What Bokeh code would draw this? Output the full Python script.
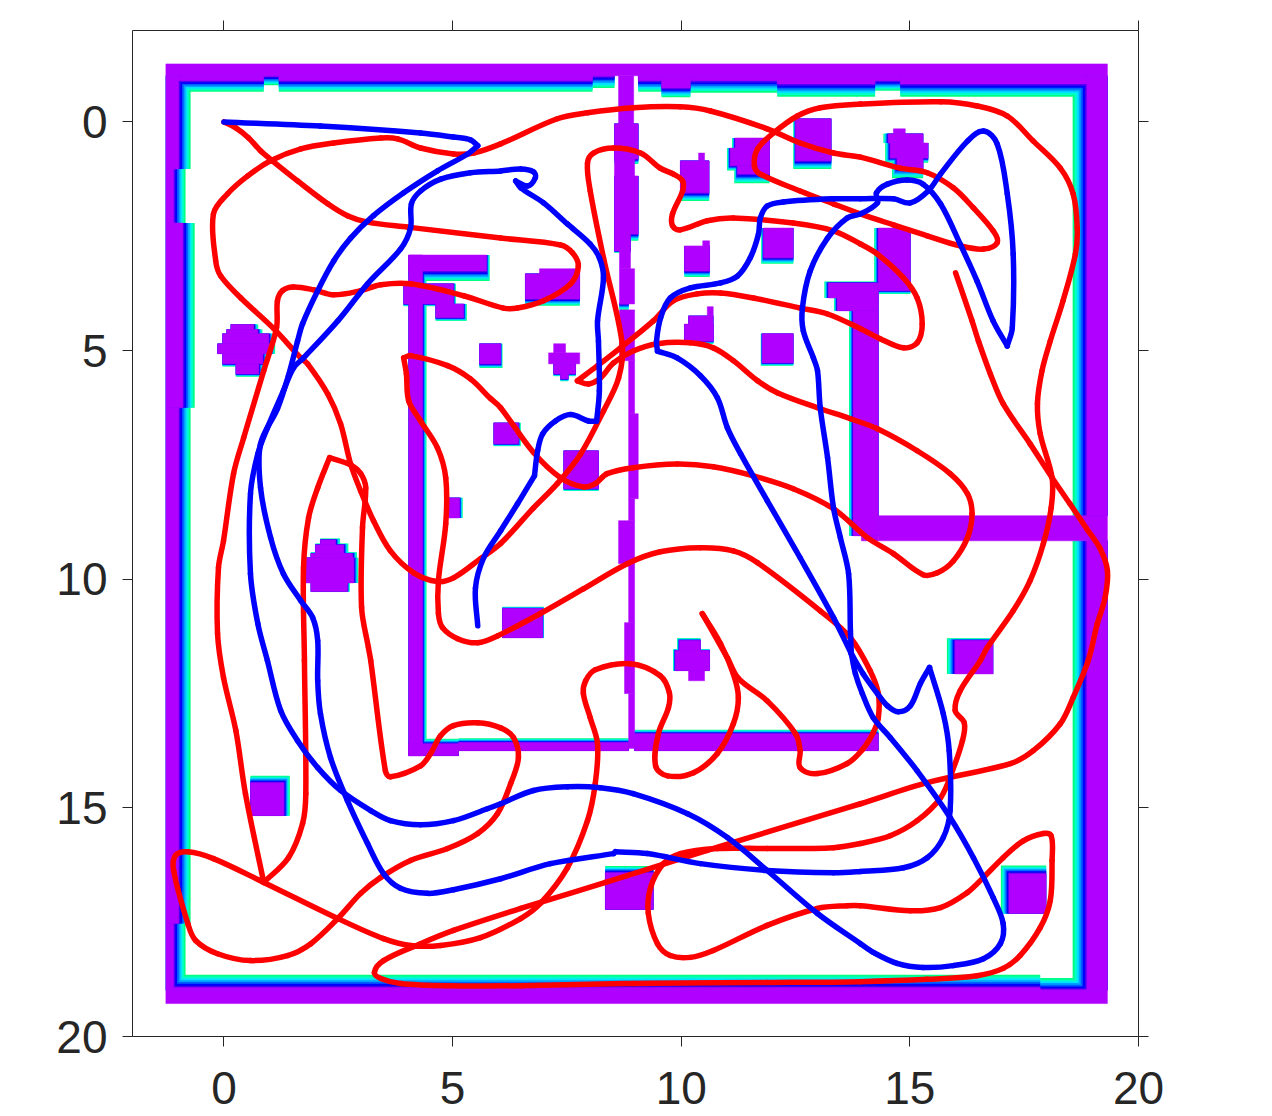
import math
from bokeh.plotting import figure
from bokeh.models import Range1d, LinearAxis, FixedTicker
from bokeh.embed import file_html
from bokeh.resources import INLINE

tick_values = [0, 5, 10, 15, 20]
tick_labels = {0: "0", 5: "5", 10: "10", 15: "15", 20: "20"}

# (x0, x1, y0, y1, halo_left, halo_top, halo_right, halo_bottom)
outer_walls = [
    (-1.27, 19.32, -1.27, -1.01, 0, 0, 0, 0),
    (-0.99, 0.87, -1.01, -0.90, 0, 0, 0, .24),
    (0.87, 1.20, -1.01, -1.00, 0, 0, 0, .20),
    (1.20, 8.06, -1.01, -0.90, 0, 0, 0, .24),
    (8.06, 8.54, -1.01, -1.00, 0, 0, 0, .26),
    (9.06, 9.57, -1.01, -0.90, 0, 0, 0, .24),
    (9.57, 10.20, -1.01, -0.74, 0, 0, 0, .20),
    (10.20, 12.10, -1.01, -0.90, 0, 0, 0, .26),
    (12.10, 14.24, -1.01, -0.83, 0, 0, 0, .28),
    (14.24, 14.79, -1.01, -0.90, 0, 0, 0, .22),
    (14.79, 18.87, -1.01, -0.83, 0, 0, 0, .28),
    (-1.27, -0.99, -1.01, 1.03, 0, 0, .26, 0),
    (-1.27, -1.10, 1.03, 2.21, 0, 0, .26, 0),
    (-1.27, -0.90, 2.21, 6.25, 0, 0, .26, 0),
    (-1.27, -0.99, 6.25, 17.53, 0, 0, .26, 0),
    (-1.27, -1.10, 17.53, 18.99, 0, 0, .26, 0),
    (-1.27, 19.32, 18.99, 19.28, 0, 0, 0, 0),
    (-1.10, 17.85, 18.93, 18.99, 0, .28, 0, 0),
    (17.85, 18.87, 18.98, 18.99, 0, .26, 0, 0),
    (18.87, 19.32, -1.01, 8.61, .31, 0, 0, 0),
    (18.87, 19.32, 9.16, 18.99, .31, 0, 0, 0),
]
inner_walls = [
    (4.04, 4.34, 2.91, 13.86, 0, 0, .09, 0),
    (4.04, 5.74, 2.91, 3.26, 0, 0, .07, .22),
    (3.93, 5.02, 3.54, 3.98, 0, 0, .05, .05),
    (4.63, 5.24, 3.98, 4.28, 0, 0, .07, .07),
    (4.04, 5.13, 13.60, 13.86, 0, .11, 0, 0),
    (5.13, 8.85, 13.57, 13.75, 0, .09, 0, 0),
    (8.98, 14.31, 13.38, 13.75, 0, .09, 0, 0),
    (13.22, 14.31, 3.52, 3.85, .09, .03, 0, 0),
    (13.41, 14.31, 3.85, 4.13, .07, 0, 0, 0),
    (13.76, 14.31, 4.13, 9.05, .09, 0, 0, 0),
    (14.31, 19.32, 8.61, 9.16, 0, 0, 0, 0),
    (13.94, 14.31, 9.05, 9.16, 0, 0, 0, 0),
    (8.63, 8.96, -1.01, 0.04, 0, 0, 0, 0),
    (8.54, 9.06, 0.04, 0.81, 0, 0, 0, .11),
    (8.54, 8.98, 0.81, 1.18, 0, 0, 0, 0),
    (8.54, 9.06, 1.18, 2.45, 0, 0, 0, .15),
    (8.54, 8.89, 2.45, 2.82, 0, 0, 0, .04),
    (8.65, 8.89, 2.82, 3.21, 0, 0, 0, 0),
    (8.65, 8.98, 3.21, 3.98, 0, 0, 0, 0),
    (8.65, 8.85, 3.97, 3.98, 0, 0, 0, .13),
    (8.65, 8.98, 4.11, 5.22, 0, 0, 0, 0),
    (8.85, 8.98, 5.22, 6.38, 0, 0, 0, 0),
    (8.85, 9.06, 6.38, 8.24, 0, 0, 0, 0),
    (8.85, 8.98, 8.24, 8.72, 0, 0, 0, 0),
    (8.63, 8.98, 8.72, 9.66, 0, 0, 0, 0),
    (8.85, 8.98, 9.66, 10.95, 0, 0, 0, 0),
    (8.76, 8.98, 10.95, 12.50, 0, 0, 0, 0),
    (8.85, 8.98, 12.50, 13.70, 0, 0, 0, 0),
]
obstacles = [
    (.15, .65, 4.43, 4.54, 0, 0, .10, 0),
    (.06, .74, 4.54, 4.63, 0, 0, .10, 0),
    (-.03, .98, 4.63, 4.85, 0, 0, .10, 0),
    (-.14, 1.02, 4.85, 5.07, 0, 0, .10, 0),
    (-.03, .85, 5.07, 5.29, 0, 0, .10, .06),
    (.26, .76, 5.29, 5.51, 0, 0, .10, .06),
    (5.59, 6.05, 4.85, 5.29, 0, 0, .04, .09),
    (7.21, 7.47, 4.85, 5.05, 0, 0, 0, 0),
    (7.10, 7.78, 5.05, 5.29, 0, 0, 0, 0),
    (7.21, 7.69, 5.29, 5.51, 0, 0, 0, .05),
    (7.36, 7.53, 5.51, 5.62, 0, 0, 0, .05),
    (6.59, 7.78, 3.32, 3.87, 0, 0, 0, .15),
    (6.90, 7.78, 3.21, 3.32, 0, 0, 0, 0),
    (5.90, 6.44, 6.58, 7.04, 0, 0, .05, .05),
    (7.43, 8.19, 7.19, 8.02, 0, 0, 0, .05),
    (4.89, 5.15, 8.22, 8.66, 0, 0, .07, 0),
    (2.11, 2.44, 9.14, 9.25, 0, .03, .10, 0),
    (2.00, 2.62, 9.25, 9.44, 0, .03, .10, 0),
    (1.90, 2.81, 9.44, 9.53, 0, .03, .10, 0),
    (1.79, 2.84, 9.53, 10.08, 0, 0, .10, 0),
    (1.90, 2.70, 10.08, 10.27, 0, 0, .05, 0),
    (6.09, 6.97, 10.64, 11.28, 0, .04, .03, 0),
    (9.96, 10.42, 11.34, 11.56, .05, .05, 0, 0),
    (9.87, 10.62, 11.56, 12.00, .05, .03, 0, 0),
    (10.16, 10.51, 12.00, 12.22, 0, 0, 0, 0),
    (15.99, 16.82, 11.34, 12.07, .18, .05, 0, 0),
    (.58, 1.31, 14.45, 15.17, 0, .15, .13, 0),
    (8.34, 9.39, 16.42, 17.22, 0, .15, 0, 0),
    (17.17, 17.98, 16.44, 17.31, .18, .18, 0, 0),
    (9.98, 10.61, .85, 1.55, 0, 0, 0, .18),
    (10.38, 10.51, .68, .85, 0, 0, 0, 0),
    (11.18, 11.93, .35, .57, .07, 0, 0, 0),
    (11.07, 11.93, .57, .96, .07, 0, 0, .10),
    (11.23, 11.93, .96, 1.14, .07, 0, 0, .20),
    (12.50, 13.28, -.07, .85, .05, 0, 0, .18),
    (14.64, 14.90, .15, .26, 0, 0, 0, 0),
    (14.53, 15.29, .26, .46, .11, 0, 0, 0),
    (14.57, 15.40, .46, .79, .11, 0, 0, .10),
    (14.72, 15.29, .79, 1.01, .11, 0, 0, .22),
    (14.31, 15.01, 2.32, 3.69, .09, 0, 0, .07),
    (11.80, 12.45, 2.32, 2.97, .05, 0, 0, .13),
    (10.07, 10.62, 2.71, 3.26, 0, 0, 0, .13),
    (10.47, 10.62, 2.60, 2.71, 0, 0, 0, 0),
    (10.16, 10.70, 4.24, 4.79, 0, 0, 0, .06),
    (10.07, 10.70, 4.42, 4.79, 0, 0, 0, .06),
    (10.57, 10.70, 4.04, 4.24, 0, 0, 0, 0),
    (11.77, 12.45, 4.63, 5.27, .03, 0, 0, .06),
]

red_path = [
    (0, 0), (.26, .13), (.54, .35), (.80, .63), (1.06, .85), (1.61, 1.29), (2.27, 1.79), (2.70, 2.05), (3.14, 2.19),
    (4.02, 2.30), (6.05, 2.54), (7.36, 2.69), (7.62, 2.86), (7.75, 3.15), (7.58, 3.54), (6.99, 3.91), (6.42, 4.07),
    (6.11, 4.07), (5.24, 3.80), (4.08, 3.54), (3.43, 3.56), (2.99, 3.69), (2.40, 3.78), (1.96, 3.67), (1.52, 3.61),
    (1.28, 3.69), (1.17, 3.91), (1.15, 4.50), (.87, 5.44), (.43, 6.91), (.21, 7.69), (-.01, 9.16), (-.12, 9.75),
    (-.14, 11.19), (-.01, 12.15), (.26, 13.31), (.47, 14.69), (.87, 16.63),
    (1.41, 16.09), (1.72, 15.34), (1.79, 14.69), (1.76, 11.78), (1.74, 9.75), (1.85, 8.66), (2.05, 8.00), (2.31, 7.34),
    (2.77, 7.50), (2.99, 7.69), (3.10, 8.00), (3.03, 8.87), (3.01, 10.62), (3.16, 11.50), (3.21, 11.78), (3.53, 14.19),
    (3.64, 14.32), (4.30, 14.08), (4.52, 13.81), (4.74, 13.42), (5.02, 13.20), (5.55, 13.14), (6.05, 13.25), (6.33, 13.46),
    (6.44, 13.90), (6.27, 14.47), (5.98, 15.13), (5.55, 15.56), (4.89, 15.89), (4.08, 16.15), (3.43, 16.52), (2.99, 16.87),
    (2.49, 17.42), (1.90, 17.97), (1.39, 18.23), (.58, 18.34), (-.14, 18.19), (-.62, 17.90), (-.79, 17.53), (-1.10, 16.37),
    (-1.06, 16.04), (-.79, 15.96), (-.23, 16.11), (.87, 16.63), (2.49, 17.42), (3.49, 17.86), (4.08, 18.01), (4.74, 18.01),
    (5.61, 17.84), (6.49, 17.42), (6.92, 17.09), (7.51, 16.31), (7.95, 15.28), (8.12, 14.47), (8.17, 13.60), (8.01, 13.03),
    (7.86, 12.50), (7.91, 12.22), (8.12, 11.98), (8.89, 11.85), (9.54, 12.11), (9.74, 12.48), (9.72, 12.81), (9.50, 13.38),
    (9.44, 14.08), (9.70, 14.30), (10.27, 14.23), (10.79, 13.81), (11.14, 13.16), (11.25, 12.59), (11.14, 12.07),
    (10.86, 11.41), (10.46, 10.75), (11.01, 11.72), (11.25, 12.17), (11.88, 12.66), (12.50, 13.38), (12.60, 13.75),
    (12.60, 14.12), (12.98, 14.25), (13.63, 14.03), (13.96, 13.73), (14.20, 13.35), (14.31, 13.03), (14.31, 12.50), (14.13, 12.00),
    (13.70, 11.28), (13.04, 10.69), (11.67, 9.64), (11.14, 9.38), (10.42, 9.31), (9.54, 9.40), (8.82, 9.66), (7.86, 10.21),
    (6.92, 10.75), (5.98, 11.24), (5.55, 11.39), (5.11, 11.30), (4.78, 11.06), (4.69, 10.75), (4.69, 10.03), (4.85, 8.79),
    (4.85, 7.78), (4.67, 7.13), (4.30, 6.54), (4.04, 6.10), (3.99, 5.51), (3.93, 5.16), (4.08, 5.11), (4.89, 5.33),
    (5.39, 5.62), (5.83, 6.05), (6.05, 6.25), (6.77, 7.23), (7.36, 7.78), (7.86, 7.98), (8.12, 7.91), (8.38, 7.69),
    (8.95, 7.56), (9.91, 7.48), (10.70, 7.54), (11.58, 7.74), (12.45, 8.02), (13.33, 8.46), (14.07, 9.09), (14.64, 9.44),
    (15.29, 9.90), (15.60, 9.86), (15.95, 9.60), (16.26, 9.09), (16.36, 8.57), (16.26, 8.13), (15.88, 7.69), (15.16, 7.19),
    (14.29, 6.71), (13.70, 6.49), (12.98, 6.25), (12.10, 5.92), (11.67, 5.66), (11.14, 5.22), (10.70, 4.94), (10.20, 4.83),
    (9.48, 4.85), (8.95, 5.01), (8.52, 5.27), (8.23, 5.60), (7.97, 5.73), (7.73, 5.66), (8.17, 5.33), (8.67, 4.94),
    (9.39, 4.35), (9.83, 3.91), (10.35, 3.76), (10.86, 3.74), (11.58, 3.85), (12.60, 4.07), (13.20, 4.20), (13.92, 4.52),
    (14.35, 4.74), (14.86, 4.94), (15.16, 4.83), (15.27, 4.42), (15.16, 3.85), (14.86, 3.41), (14.29, 2.89), (13.92, 2.67),
    (13.33, 2.38), (12.45, 2.21), (11.14, 2.10), (10.57, 2.16), (9.98, 2.36), (9.81, 2.27), (9.81, 2.01), (10.03, 1.51),
    (10.03, 1.29), (9.83, 1.14), (9.54, 1.01), (9.11, .68), (8.52, .57), (8.08, .68), (7.95, .90), (8.01, 1.51), (8.30, 2.97),
    (8.71, 4.85), (8.63, 5.60), (8.30, 6.32), (7.80, 7.26), (7.29, 7.91), (6.77, 8.44), (6.05, 9.22), (5.61, 9.55),
    (5.02, 9.97), (4.67, 10.05), (4.15, 9.86), (3.64, 9.38), (3.27, 8.72), (2.99, 8.07), (2.77, 7.48), (2.55, 6.60),
    (2.27, 5.95), (1.83, 5.29), (1.68, 5.16), (1.09, 4.52), (.37, 3.85), (-.07, 3.37), (-.18, 3.04), (-.23, 2.01),
    (.08, 1.57), (.52, 1.18), (1.02, .85), (1.68, .59), (2.40, .46), (3.43, .35), (3.80, .37), (4.30, .57), (5.02, .70),
    (5.46, .68), (6.05, .48), (7.29, -.07), (7.95, -.20), (8.95, -.31), (9.98, -.33), (10.64, -.24), (11.88, .15),
    (12.60, .46), (13.33, .68), (13.92, .77), (14.79, 1.01), (15.38, 1.11), (15.95, 1.44), (16.39, 1.88), (16.82, 2.38),
    (16.91, 2.64), (16.61, 2.78), (16.10, 2.71), (15.38, 2.49), (14.64, 2.25), (13.92, 2.01), (13.33, 1.79), (12.60, 1.51),
    (11.73, 1.14), (11.60, .96), (11.67, .59), (12.02, .24), (12.54, -.13), (13.04, -.31), (13.92, -.39), (15.67, -.44),
    (16.47, -.35), (17.13, -.13), (17.70, .42), (18.29, 1.01), (18.57, 1.57), (18.66, 2.32), (18.62, 2.89), (18.35, 3.91),
    (18.07, 4.79), (17.89, 5.44), (17.79, 6.16), (17.85, 6.82), (18.11, 7.78), (18.09, 8.44), (17.92, 9.22), (17.63, 10.03),
    (17.26, 10.69), (16.69, 11.50), (16.54, 11.78), (16.10, 12.44), (15.99, 12.87), (16.19, 13.14), (16.15, 13.53),
    (15.93, 14.19), (15.67, 14.78), (15.16, 15.28), (14.57, 15.61), (13.92, 15.78), (13.33, 15.87), (11.88, 15.89),
    (10.79, 15.89), (9.98, 16.00), (9.61, 16.22), (9.33, 16.74), (9.28, 17.31), (9.48, 17.97), (9.76, 18.23), (10.20, 18.27),
    (10.70, 18.12), (11.88, 17.57), (12.98, 17.20), (13.63, 17.14), (13.92, 17.14), (15.01, 17.25), (15.67, 17.18),
    (16.26, 16.85), (16.61, 16.52), (17.04, 16.09), (17.48, 15.72), (17.92, 15.56), (18.09, 15.61), (18.11, 16.15),
    (18.07, 17.03), (17.85, 17.62), (17.41, 18.23), (17.04, 18.51), (16.47, 18.67), (15.38, 18.75), (13.92, 18.80),
    (11.88, 18.82), (8.95, 18.84), (6.49, 18.89), (4.89, 18.89), (3.86, 18.84), (3.43, 18.73), (3.29, 18.60), (3.49, 18.34),
    (4.30, 17.97), (5.02, 17.68), (6.49, 17.20), (8.34, 16.63), (10.57, 15.93), (13.92, 14.91), (15.38, 14.45), (17.20, 14.03),
    (17.70, 13.75), (18.29, 13.16), (18.57, 12.59), (18.90, 11.78), (19.10, 10.97), (19.27, 10.40), (19.32, 9.81),
    (19.16, 9.33), (18.87, 8.90), (18.50, 8.35), (18.11, 7.78), (17.63, 7.04), (17.04, 6.16), (16.76, 5.51), (16.50, 4.79),
    (16.36, 4.35), (16.00, 3.30),
]

blue_path = [
    (0, 0), (2.11, .09), (4.30, .24), (5.02, .33), (5.39, .39), (5.55, .52), (5.33, .70), (4.67, 1.07), (3.93, 1.55),
    (3.27, 2.05), (2.77, 2.54), (2.40, 3.04), (2.05, 3.69), (1.72, 4.41), (1.61, 4.79), (1.41, 5.55), (1.17, 6.27),
    (.80, 7.04), (.80, 8.00), (1.02, 9.09), (1.30, 9.88), (1.68, 10.47), (1.94, 10.84), (2.05, 11.34), (2.05, 12.22),
    (2.11, 12.94), (2.33, 13.90), (2.70, 14.84), (3.14, 15.78), (3.49, 16.44), (3.86, 16.76), (4.45, 16.87), (5.02, 16.79),
    (6.05, 16.55), (7.14, 16.22), (8.52, 16.00), (8.56, 15.96), (9.26, 16.00), (10.42, 16.22), (11.88, 16.37), (13.33, 16.42),
    (13.92, 16.39), (14.86, 16.31), (15.38, 16.09), (15.73, 15.65), (15.88, 15.06), (15.86, 13.75), (15.73, 12.94),
    (15.43, 11.93), (15.23, 12.28), (15.01, 12.77), (14.75, 12.90), (14.51, 12.77), (14.29, 12.50), (13.98, 12.07),
    (13.72, 11.63), (13.70, 11.13), (13.66, 9.88), (13.48, 9.09), (13.33, 8.44), (13.20, 7.34), (13.04, 6.25), (12.98, 5.44), (12.89, 5.16),
    (12.67, 4.57), (12.65, 4.07), (12.82, 3.26), (13.20, 2.54), (13.63, 2.10), (13.92, 2.01), (14.29, 1.77), (14.27, 1.55),
    (14.51, 1.36), (14.94, 1.27), (15.29, 1.36), (15.67, 1.79), (16.10, 2.67), (16.47, 3.48), (16.82, 4.35), (17.13, 4.90),
    (17.24, 4.50), (17.26, 2.89), (17.13, 1.57), (16.91, .48), (16.61, .20), (16.26, .42), (15.67, 1.14), (15.40, 1.51),
    (15.01, 1.77), (14.64, 1.68), (13.92, 1.68), (13.33, 1.68), (12.23, 1.75), (11.88, 1.84), (11.73, 2.10), (11.69, 2.45),
    (11.51, 2.97), (11.23, 3.37), (10.86, 3.52), (10.20, 3.63), (9.76, 3.85), (9.55, 4.28), (9.46, 4.79), (9.48, 5.01),
    (9.91, 5.16), (10.42, 5.55), (10.79, 6.03), (11.01, 6.69), (11.30, 7.26), (11.88, 8.28), (12.60, 9.53), (13.33, 10.84),
    (13.72, 11.63), (13.81, 12.07), (13.96, 12.50), (14.20, 13.03), (14.57, 13.46), (15.16, 14.19), (15.88, 15.21), (16.39, 16.09), (16.82, 16.96), (17.04, 17.53),
    (16.98, 17.97), (16.61, 18.30), (15.95, 18.45), (15.29, 18.49), (14.72, 18.40), (14.20, 18.16), (13.92, 17.97),
    (12.98, 17.31), (11.88, 16.37), (11.01, 15.65), (10.14, 15.13), (8.95, 14.69), (8.23, 14.56), (7.51, 14.54), (6.77, 14.62),
    (6.05, 14.91), (5.76, 15.02), (5.02, 15.28), (4.30, 15.37), (3.64, 15.28), (3.21, 15.06), (2.55, 14.62), (2.05, 14.12),
    (1.61, 13.53), (1.24, 12.87), (.95, 11.78), (.74, 10.97), (.58, 9.88), (.58, 8.13), (.74, 7.26), (.95, 6.69), (1.30, 5.88),
    (1.52, 5.38), (1.74, 5.16), (2.49, 4.35), (3.14, 3.54), (3.86, 2.78), (4.08, 2.32), (4.10, 1.79), (4.30, 1.51), (4.74, 1.25),
    (5.39, 1.11), (6.05, 1.07), (6.49, 1.03), (6.77, 1.09), (6.81, 1.22), (6.64, 1.40), (6.38, 1.29), (6.49, 1.44), (6.99, 1.77),
    (7.51, 2.23), (8.01, 2.67), (8.21, 2.97), (8.30, 3.41), (8.17, 4.35), (8.19, 4.79), (8.21, 5.88), (8.15, 6.54), (7.97, 6.54),
    (7.58, 6.40), (7.25, 6.54), (6.97, 6.82), (6.86, 7.19), (6.79, 7.74), (6.42, 8.35), (6.05, 8.94), (5.68, 9.53), (5.50, 10.19),
    (5.55, 11.02),
]

# points where the stroke turns sharply in the picture
sharp_points = {(2.31, 7.34), (3.93, 5.16), (7.73, 5.66), (6.79, 7.74), (8.15, 6.54), (9.48, 5.01),
                (8.52, 16.00), (8.56, 15.96), (15.43, 11.93), (6.38, 1.29), (13.72, 11.63)}

layer_colors = ["#00ff80", "#00ffc8", "#00e0ff", "#00a0ff", "#0060ff", "#0000ff", "#4000f0"]
layer_scale = [1.0, 0.86, 0.71, 0.57, 0.43, 0.29, 0.14]
PURPLE = "#b000ff"
INK = "#262626"

p = figure(frame_width=1006, frame_height=1006, x_range=Range1d(-2, 20), y_range=Range1d(20, -2),
           x_axis_type=None, y_axis_type=None, toolbar_location=None, output_backend="svg",
           min_border_left=132, min_border_top=30, min_border_right=40, min_border_bottom=80,
           outline_line_color=None, background_fill_color="white")
p.grid.visible = False

shapes = outer_walls + inner_walls + obstacles
halo_shapes = [r for r in shapes if any(r[4:])]
for col, s in zip(layer_colors, layer_scale):
    p.quad(left=[r[0] - r[4] * s for r in halo_shapes], right=[r[1] + r[6] * s for r in halo_shapes],
           top=[r[2] - r[5] * s for r in halo_shapes], bottom=[r[3] + r[7] * s for r in halo_shapes],
           fill_color=col, line_color=None)
p.quad(left=[r[0] for r in shapes], right=[r[1] for r in shapes], top=[r[2] for r in shapes],
       bottom=[r[3] for r in shapes], fill_color=PURPLE, line_color=PURPLE, line_width=0.5)


def unit(dx, dy):
    n = math.hypot(dx, dy) or 1.0
    return dx / n, dy / n


def draw_path(path, color):
    """Draw a smooth stroke that passes through every read point; sharp turns stay sharp."""
    tang = []
    for i, q in enumerate(path):
        a = path[i - 1] if i else q
        b = path[i + 1] if i < len(path) - 1 else q
        d1 = unit(q[0] - a[0], q[1] - a[1])
        d2 = unit(b[0] - q[0], b[1] - q[1])
        sharp = (i and i < len(path) - 1 and d1[0] * d2[0] + d1[1] * d2[1] < -0.2) or q in sharp_points
        tang.append(None if sharp else unit(b[0] - a[0], b[1] - a[1]))
    x0, y0, x1, y1, cx0, cy0, cx1, cy1 = [], [], [], [], [], [], [], []
    for i in range(len(path) - 1):
        a, b = path[i], path[i + 1]
        L = math.hypot(b[0] - a[0], b[1] - a[1]) / 3
        ta = tang[i] or unit(b[0] - a[0], b[1] - a[1])
        tb = tang[i + 1] or unit(b[0] - a[0], b[1] - a[1])
        x0.append(a[0]); y0.append(a[1]); x1.append(b[0]); y1.append(b[1])
        cx0.append(a[0] + ta[0] * L); cy0.append(a[1] + ta[1] * L)
        cx1.append(b[0] - tb[0] * L); cy1.append(b[1] - tb[1] * L)
    p.bezier(x0=x0, y0=y0, x1=x1, y1=y1, cx0=cx0, cy0=cy0, cx1=cx1, cy1=cy1,
             line_color=color, line_width=5.5, line_cap="round")


draw_path(red_path, "#ff0000")
draw_path(blue_path, "#0000ff")


def make_axis(show, standoff=0):
    ax = LinearAxis(ticker=FixedTicker(ticks=tick_values))
    ax.axis_line_color = INK
    ax.axis_line_width = 1
    ax.major_tick_line_color = INK
    ax.major_tick_line_width = 1
    ax.major_tick_in = 0
    ax.major_tick_out = 10
    ax.minor_tick_line_color = None
    if show:
        ax.major_label_overrides = tick_labels
        ax.major_label_text_font = "Liberation Sans"
        ax.major_label_text_font_size = "46px"
        ax.major_label_text_color = INK
        ax.major_label_standoff = standoff
    else:
        ax.major_label_overrides = {v: "" for v in tick_values}
        ax.major_label_text_font_size = "1px"
        ax.major_label_standoff = 0
    return ax


p.add_layout(make_axis(True, 15), "left")
p.add_layout(make_axis(True, 25), "below")
p.add_layout(make_axis(False), "above")
p.add_layout(make_axis(False), "right")

open("out.html", "w").write(file_html(p, INLINE))
